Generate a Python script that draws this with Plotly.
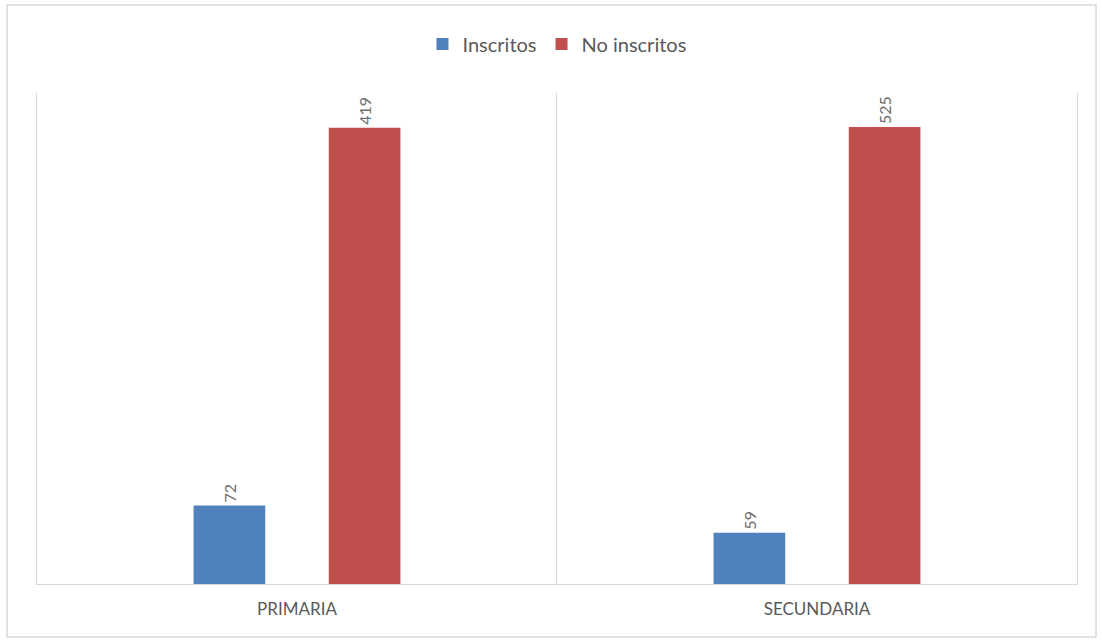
import plotly.graph_objects as go
from plotly.subplots import make_subplots

categories = ["PRIMARIA", "SECUNDARIA"]
series_names = ["Inscritos", "No inscritos"]
inscritos = [72, 59]
no_inscritos = [419, 525]
colors = ["#4F81BD", "#C0504D"]
# each category in the original is drawn on its own value scale
y_max = [451, 564]

fig = make_subplots(rows=1, cols=2, horizontal_spacing=0)

for i, cat in enumerate(categories):
    for name, vals, col in zip(series_names, [inscritos, no_inscritos], colors):
        fig.add_trace(
            go.Bar(
                x=[cat], y=[vals[i]], name=name, marker_color=col,
                marker_line_width=0,
                text=[vals[i]], textposition="outside", textangle=-90,
                textfont=dict(size=16, color="#6E6E6E"),
                cliponaxis=False,
                legendgroup=name, showlegend=(i == 0),
            ),
            row=1, col=i + 1,
        )
    fig.update_yaxes(range=[0, y_max[i]], row=1, col=i + 1)

fig.update_layout(
    width=1102, height=641,
    margin=dict(l=37, r=25, t=93, b=57),
    paper_bgcolor="white", plot_bgcolor="white",
    barmode="group", bargap=0.48, bargroupgap=0.47,
    font=dict(family="Lato, Open Sans, sans-serif", color="#595959"),
    legend=dict(orientation="h", x=0.5, xanchor="center", y=1.1, yanchor="middle",
                font=dict(size=20, color="#595959"), itemwidth=30,
                traceorder="normal"),
    showlegend=True,
)
fig.update_xaxes(showline=True, linecolor="#D9D9D9", linewidth=1, showgrid=False,
                 ticks="outside", ticklen=10, tickcolor="rgba(0,0,0,0)",
                 tickfont=dict(size=17, color="#595959"), fixedrange=True)
fig.update_yaxes(showline=True, linecolor="#D9D9D9", linewidth=1, showgrid=False,
                 showticklabels=False, ticks="", zeroline=False)
fig.update_yaxes(mirror=True, row=1, col=2)

fig.add_shape(type="rect", xref="paper", yref="paper",
              x0=-0.0288, x1=1.0183, y0=-0.108, y1=1.179,
              line=dict(color="#D9D9D9", width=1.5), fillcolor="rgba(0,0,0,0)")

fig.write_html("out.html", config={"displayModeBar": False},
               post_script="document.body.style.margin='0';document.body.style.overflow='hidden';")
